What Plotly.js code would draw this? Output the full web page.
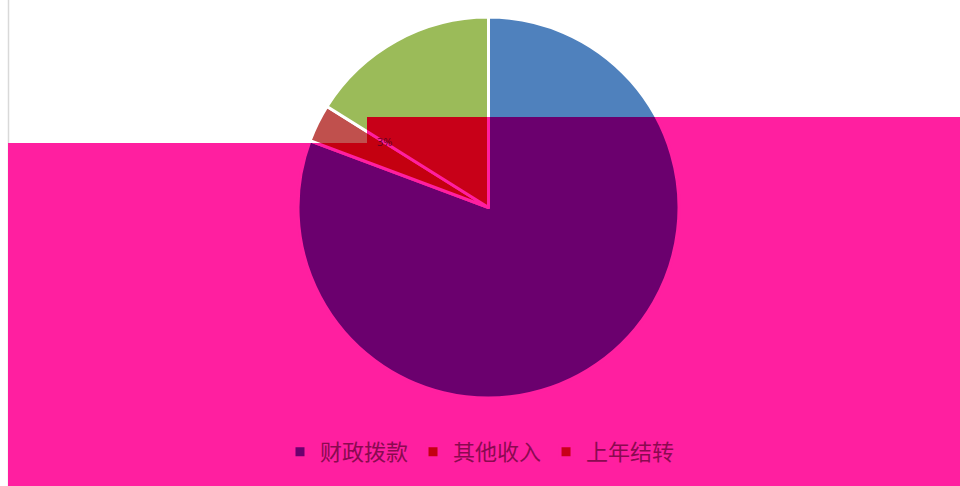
<!DOCTYPE html>
<html>
<head>
<meta charset="utf-8">
<script src="https://cdn.plot.ly/plotly-3.0.1.min.js"></script>
<style>
  html, body { margin: 0; padding: 0; background: #ffffff; }
  #base, #over { position: absolute; left: 0; top: 0; width: 960px; height: 486px; }
  #over { clip-path: polygon(8px 143px, 367px 143px, 367px 117px, 960px 117px, 960px 486px, 8px 486px); }
</style>
</head>
<body>
<div id="base"></div>
<div id="over"></div>
<script>
// Data
const categories = ['财政拨款', '其他收入', '上年结转'];
const values = [80.7, 3.2, 16.1];
const baseColors = ['#4F81BD', '#C0504D', '#9BBB59'];
const overColors = ['#6B006E', '#C40010', '#C80018'];

const W = 960, H = 486;
const cx = 488.5, cy = 207.5, r = 190.5;
const domain = {
  x: [(cx - r) / W, (cx + r) / W],
  y: [1 - (cy + r) / H, 1 - (cy - r) / H]
};

function pieTrace(colors, lineColor, showlegend) {
  return {
    type: 'pie',
    labels: categories,
    values: values,
    sort: false,
    direction: 'clockwise',
    rotation: 0,
    textinfo: 'none',
    hoverinfo: 'label+percent',
    showlegend: showlegend,
    domain: domain,
    marker: { colors: colors, line: { color: lineColor, width: 3 } }
  };
}

const baseLayout = {
  width: W, height: H,
  margin: { l: 0, r: 0, t: 0, b: 0 },
  paper_bgcolor: '#ffffff',
  showlegend: false,
  shapes: [{
    type: 'line', xref: 'paper', yref: 'paper',
    x0: 8.5 / W, x1: 8.5 / W, y0: 0, y1: 1,
    line: { color: '#D9D9D9', width: 1.5 }
  }]
};

const overLayout = {
  width: W, height: H,
  margin: { l: 0, r: 0, t: 0, b: 0 },
  paper_bgcolor: '#FF1FA0',
  showlegend: true,
  legend: {
    orientation: 'h',
    x: 0.5, xanchor: 'center',
    y: 1 - 452 / H, yanchor: 'middle',
    bgcolor: 'rgba(0,0,0,0)',
    font: { family: '"Noto Sans CJK SC", "Noto Sans", sans-serif', size: 22, color: '#8A0A50' }
  },
  annotations: [{
    x: 384 / W, y: 1 - 132 / H, xref: 'paper', yref: 'paper',
    text: '3%', showarrow: false,
    font: { family: '"Noto Sans", sans-serif', size: 11, color: '#6A0020' }
  }]
};

const config = { staticPlot: true, displayModeBar: false };
Plotly.newPlot('base', [pieTrace(baseColors, '#ffffff', false)], baseLayout, config);
Plotly.newPlot('over', [pieTrace(overColors, '#FF1FA0', true)], overLayout, config);
</script>
</body>
</html>
